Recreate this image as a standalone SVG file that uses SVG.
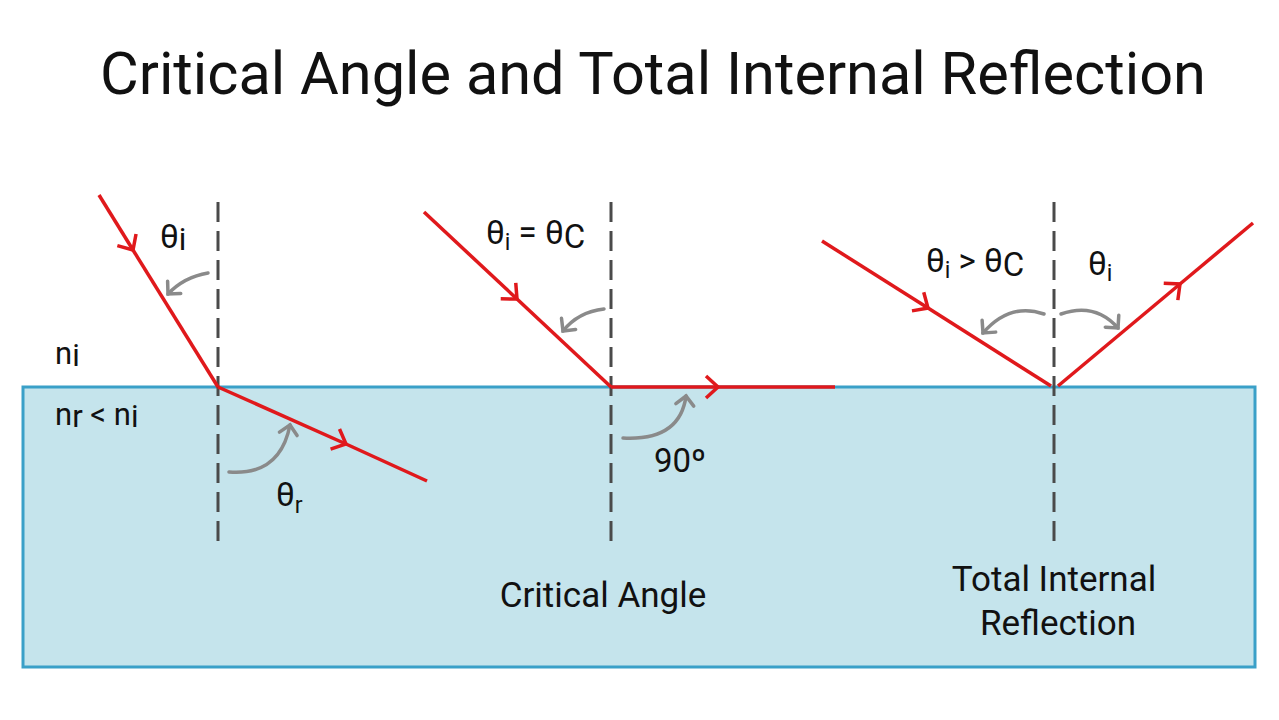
<svg xmlns="http://www.w3.org/2000/svg" width="1279" height="720" viewBox="0 0 1279 720">
<style>
text{font-family:Roboto,"Liberation Sans",sans-serif;fill:#111}
.ray{stroke:#e0191c;stroke-width:3.5;fill:none}
.norm{stroke:#4a4a4a;stroke-width:3;stroke-dasharray:20 9;fill:none}
.ang{stroke:#8a8a8a;stroke-width:3.5;fill:none;stroke-linecap:round}
</style>
<defs>
<marker id="chev" markerUnits="userSpaceOnUse" markerWidth="30" markerHeight="30" viewBox="-15 -15 30 30" orient="auto" overflow="visible">
<path d="M-12,-11 L0,0 L-12,11" stroke="#e0191c" stroke-width="3.5" fill="none"/>
</marker>
<marker id="gchev" markerUnits="userSpaceOnUse" markerWidth="30" markerHeight="30" viewBox="-15 -15 30 30" orient="auto" overflow="visible">
<path d="M-9,-9 L0,0 L-9,9" stroke="#8a8a8a" stroke-width="3.5" fill="none" stroke-linecap="round"/>
</marker>
</defs>
<rect width="1279" height="720" fill="#fff"/>
<text x="653" y="94" font-size="59.5" text-anchor="middle">Critical Angle and Total Internal Reflection</text>
<g id="medium"><rect x="23" y="387" width="1232" height="280" fill="#c5e4ec" stroke="#3aa0c8" stroke-width="3"/></g>
<g id="connectors">
<line class="norm" x1="218" y1="202" x2="218" y2="548"/>
<line class="norm" x1="611" y1="202" x2="611" y2="548"/>
<line class="norm" x1="1054" y1="202" x2="1054" y2="548"/>
<path class="ray" d="M99,195 L133,250" marker-end="url(#chev)"/><path class="ray" d="M133,250 L218,387"/>
<path class="ray" d="M218,387 L346,444" marker-end="url(#chev)"/><path class="ray" d="M346,444 L427,481"/>
<path class="ray" d="M424,212 L517,299" marker-end="url(#chev)"/><path class="ray" d="M517,299 L611,387"/>
<path class="ray" d="M611,387 L718,387" marker-end="url(#chev)"/><path class="ray" d="M718,387 L835,387"/>
<path class="ray" d="M822,241 L928,308" marker-end="url(#chev)"/><path class="ray" d="M928,308 L1051,386"/>
<path class="ray" d="M1058,386 L1180,284" marker-end="url(#chev)"/><path class="ray" d="M1180,284 L1253,223"/>
<path class="ang" d="M208,273 Q184,277 168,294" marker-end="url(#gchev)"/>
<path class="ang" d="M229,472 Q280,476 290,425" marker-end="url(#gchev)"/>
<path class="ang" d="M604,309 Q578,312 563,331" marker-end="url(#gchev)"/>
<path class="ang" d="M623,438 Q680,441 686,396" marker-end="url(#gchev)"/>
<path class="ang" d="M1044,314 Q1010,302 983,333" marker-end="url(#gchev)"/>
<path class="ang" d="M1061,314 Q1095,302 1118,328" marker-end="url(#gchev)"/>
</g>
<g id="labels" font-size="33">
<text x="160" y="248">θ<tspan font-size="31" dy="2">i</tspan></text>
<text x="55" y="364" font-size="31">n<tspan dy="2">i</tspan></text>
<text x="55" y="425" font-size="31">n<tspan dy="2">r</tspan><tspan dy="-2"> &lt; n</tspan><tspan dy="2">i</tspan></text>
<text x="276" y="506">θ<tspan font-size="23" dy="7">r</tspan></text>
<text x="486" y="244">θ<tspan font-size="23" dy="6">i</tspan><tspan dy="-6"> = θ</tspan><tspan dy="4">C</tspan></text>
<text x="654" y="472">90º</text>
<text x="603" y="607" text-anchor="middle" font-size="35">Critical Angle</text>
<text x="1054" y="591" text-anchor="middle" font-size="35">Total Internal</text>
<text x="1058" y="635" text-anchor="middle" font-size="35">Reflection</text>
<text x="926" y="272">θ<tspan font-size="23" dy="6">i</tspan><tspan dy="-6"> &gt; θ</tspan><tspan dy="4">C</tspan></text>
<text x="1088" y="275">θ<tspan font-size="23" dy="6">i</tspan></text>
</g>
</svg>
